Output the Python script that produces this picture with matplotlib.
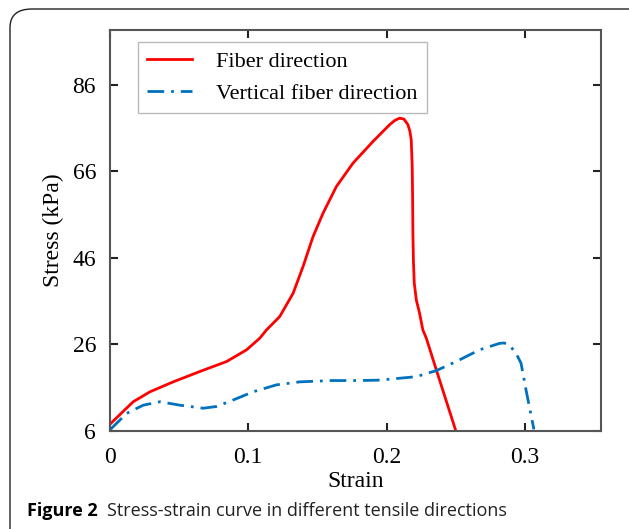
import numpy as np
import matplotlib.pyplot as plt
from matplotlib.patches import FancyBboxPatch

# Fiber direction (strain, stress in kPa)
fiber_strain = [0.0, 0.008, 0.0168, 0.0289, 0.0457, 0.065, 0.0843, 0.0987, 0.1083, 0.1131,
                0.1227, 0.1324, 0.1396, 0.1468, 0.154, 0.1637, 0.1757, 0.1901, 0.2022,
                0.206, 0.2094, 0.2125, 0.2154, 0.2168, 0.2178, 0.2185, 0.2188, 0.219,
                0.2194, 0.220, 0.2215, 0.2238, 0.2262, 0.2287, 0.2359, 0.2498]
fiber_stress = [7.5, 10.0, 12.7, 15.0, 17.3, 19.7, 22.0, 24.7, 27.4, 29.3,
                32.4, 37.8, 44.0, 50.9, 56.3, 62.5, 67.9, 72.9, 76.8,
                77.8, 78.3, 78.1, 76.8, 75.3, 73.3, 67.1, 60.0, 51.7,
                45.0, 40.1, 36.2, 33.2, 29.3, 27.4, 20.1, 6.2]

# Vertical fiber direction
vert_strain = [0.0, 0.012, 0.024, 0.0361, 0.0505, 0.0674, 0.077, 0.089, 0.1035,
               0.1203, 0.1372, 0.16, 0.18, 0.195, 0.2214, 0.2359, 0.2503, 0.2671,
               0.2816, 0.285, 0.2888, 0.2936, 0.2972, 0.3008, 0.3065]
vert_stress = [6.2, 10.0, 11.9, 12.7, 11.9, 11.2, 11.6, 13.1, 15.0,
               16.6, 17.3, 17.6, 17.6, 17.7, 18.5, 19.9, 22.0, 24.7,
               26.2, 26.3, 25.8, 23.9, 21.6, 15.4, 6.3]

x_ticks = [0, 0.1, 0.2, 0.3]
x_tick_labels = ['0', '0.1', '0.2', '0.3']
y_ticks = [6, 26, 46, 66, 86]

serif = 'Liberation Serif'
spine_col = '#555555'

fig = plt.figure(figsize=(6.29, 5.29), dpi=100)

# rounded frame around the figure
frame = FancyBboxPatch((10 / 629, -0.1), 1.2, 1.1 - 9 / 529,
                       boxstyle='round,pad=0,rounding_size=0.035',
                       transform=fig.transFigure, fill=False,
                       edgecolor='#222222', linewidth=1.0)
fig.patches.append(frame)

ax = fig.add_axes([110 / 629, (529 - 430.7) / 529, (601 - 110) / 629, (430.7 - 30) / 529])

ax.plot(fiber_strain, fiber_stress, color='#FF0000', lw=2.0, label='Fiber direction')
ax.plot(vert_strain, vert_stress, color='#0072BD', lw=2.0,
        linestyle=(0, (6, 2.5, 1, 2.5)), label='Vertical fiber direction')

ax.set_xlim(0, 0.355)
ax.set_ylim(6, 98.7)
ax.set_xticks(x_ticks)
ax.set_xticklabels(x_tick_labels)
ax.set_yticks(y_ticks)

for s in ax.spines.values():
    s.set_color(spine_col)
    s.set_linewidth(1.5)

ax.tick_params(direction='in', length=6, width=1.5, color='#222222',
               top=True, right=True, labelsize=17, pad=10)
ax.tick_params(axis='x', pad=12)
for lab in ax.get_xticklabels() + ax.get_yticklabels():
    lab.set_fontfamily(serif)

ax.set_xlabel('Strain', fontsize=17, fontfamily=serif, labelpad=2)
ax.set_ylabel('Stress (kPa)', fontsize=17, fontfamily=serif, labelpad=6)

leg = ax.legend(loc='upper left', bbox_to_anchor=(28 / 491, 1 - 12 / 400.7),
                prop={'family': serif, 'size': 16}, frameon=True, fancybox=False,
                edgecolor='#aaaaaa', handlelength=2.0, handletextpad=1.1,
                borderpad=0.42, labelspacing=0.5, borderaxespad=0)
leg.get_frame().set_linewidth(1.0)

# caption
cap1 = fig.text(27 / 629, 1 - 511 / 529, 'Figure 2', fontfamily='Open Sans',
                fontweight='bold', fontsize=13.0, va='center', ha='left')
fig.canvas.draw()
bb = cap1.get_window_extent()
fig.text((bb.x1 + 9) / 629, 1 - 511 / 529, 'Stress-strain curve in different tensile directions',
         fontfamily='Open Sans', fontsize=13.0, va='center', ha='left', color='#222222')

fig.savefig('out.png', dpi=100)
